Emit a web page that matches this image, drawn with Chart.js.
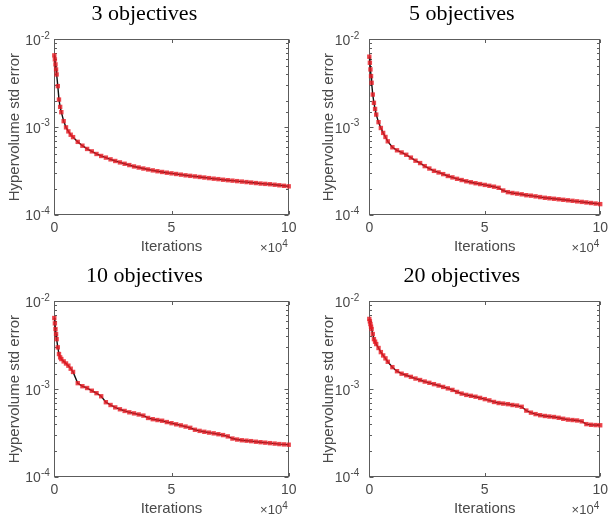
<!DOCTYPE html>
<html>
<head>
<meta charset="utf-8">
<script src="https://cdn.jsdelivr.net/npm/chart.js@4.4.1/dist/chart.umd.min.js"></script>
<style>
  html, body { margin: 0; padding: 0; background: #fff; overflow: hidden; }
  body { position: relative; width: 611px; height: 525px; }
  canvas { position: absolute; }
</style>
</head>
<body>
<canvas id="obj3" width="305" height="262" style="left:0px;top:0px"></canvas>
<canvas id="obj5" width="293" height="262" style="left:320px;top:0px"></canvas>
<canvas id="obj10" width="305" height="262" style="left:0px;top:262px"></canvas>
<canvas id="obj20" width="293" height="262" style="left:320px;top:262px"></canvas>
<script>
// iteration at which each std error sample was taken (denser during the first drop)
const iterations = [
  0, 250, 500, 750, 1000, 1500, 2000, 2500, 3000, 4000,
  5000, 6000, 7000, 8000, 10000, 12000, 14000, 16000, 18000,
  20000, 22000, 24000, 26000, 28000, 30000, 32000, 34000, 36000, 38000,
  40000, 42000, 44000, 46000, 48000, 50000, 52000, 54000, 56000, 58000,
  60000, 62000, 64000, 66000, 68000, 70000, 72000, 74000, 76000, 78000,
  80000, 82000, 84000, 86000, 88000, 90000, 92000, 94000, 96000, 98000,
  100000
];

const panelTitles = ['3 objectives', '5 objectives', '10 objectives', '20 objectives'];

const stdErr3 = [
  6.56e-3, 5.9e-3, 5.18e-3, 4.54e-3, 3.98e-3, 2.93e-3, 2.06e-3, 1.7e-3, 1.48e-3, 1.17e-3,
  9.95e-4, 8.95e-4, 8.2e-4, 7.7e-4, 6.8e-4, 6.15e-4, 5.65e-4, 5.3e-4, 4.95e-4,
  4.7e-4, 4.5e-4, 4.3e-4, 4.12e-4, 3.97e-4, 3.83e-4, 3.7e-4, 3.57e-4, 3.47e-4, 3.38e-4,
  3.3e-4, 3.22e-4, 3.15e-4, 3.09e-4, 3.03e-4, 2.98e-4, 2.93e-4, 2.88e-4, 2.83e-4, 2.79e-4,
  2.75e-4, 2.71e-4, 2.67e-4, 2.63e-4, 2.59e-4, 2.56e-4, 2.52e-4, 2.49e-4, 2.46e-4, 2.43e-4,
  2.4e-4, 2.37e-4, 2.34e-4, 2.31e-4, 2.28e-4, 2.26e-4, 2.24e-4, 2.21e-4, 2.18e-4, 2.15e-4,
  2.12e-4
];

const stdErr5 = [
  6.34e-3, 5.41e-3, 4.54e-3, 3.81e-3, 3.2e-3, 2.35e-3, 1.89e-3, 1.61e-3, 1.39e-3, 1.14e-3,
  9.78e-4, 8.6e-4, 7.73e-4, 6.9e-4, 5.9e-4, 5.45e-4, 5.15e-4, 4.85e-4, 4.5e-4,
  4.15e-4, 3.9e-4, 3.6e-4, 3.38e-4, 3.18e-4, 3.05e-4, 2.92e-4, 2.78e-4, 2.68e-4, 2.58e-4,
  2.5e-4, 2.42e-4, 2.36e-4, 2.3e-4, 2.25e-4, 2.2e-4, 2.15e-4, 2.1e-4, 2.04e-4, 1.9e-4,
  1.82e-4, 1.78e-4, 1.75e-4, 1.72e-4, 1.68e-4, 1.66e-4, 1.63e-4, 1.6e-4, 1.57e-4, 1.55e-4,
  1.53e-4, 1.51e-4, 1.49e-4, 1.47e-4, 1.45e-4, 1.43e-4, 1.41e-4, 1.39e-4, 1.37e-4, 1.35e-4,
  1.33e-4
];

const stdErr10 = [
  6.45e-3, 5.61e-3, 4.83e-3, 4.24e-3, 3.71e-3, 2.99e-3, 2.51e-3, 2.3e-3, 2.2e-3, 2.07e-3,
  1.96e-3, 1.85e-3, 1.71e-3, 1.57e-3, 1.17e-3, 1.08e-3, 1.03e-3, 9.6e-4, 9.0e-4,
  8.3e-4, 7.1e-4, 6.6e-4, 6.2e-4, 5.9e-4, 5.65e-4, 5.45e-4, 5.3e-4, 5.15e-4, 5.0e-4,
  4.7e-4, 4.55e-4, 4.45e-4, 4.37e-4, 4.22e-4, 4.1e-4, 3.98e-4, 3.87e-4, 3.75e-4, 3.63e-4,
  3.45e-4, 3.35e-4, 3.27e-4, 3.2e-4, 3.14e-4, 3.07e-4, 3.0e-4, 2.9e-4, 2.74e-4, 2.67e-4,
  2.62e-4, 2.59e-4, 2.56e-4, 2.52e-4, 2.49e-4, 2.46e-4, 2.43e-4, 2.4e-4, 2.37e-4, 2.35e-4,
  2.33e-4
];

const stdErr20 = [
  6.3e-3, 5.91e-3, 5.51e-3, 5.14e-3, 4.83e-3, 4.24e-3, 3.71e-3, 3.47e-3, 3.26e-3, 2.94e-3,
  2.64e-3, 2.42e-3, 2.24e-3, 2.05e-3, 1.78e-3, 1.6e-3, 1.5e-3, 1.44e-3, 1.38e-3,
  1.32e-3, 1.27e-3, 1.22e-3, 1.18e-3, 1.14e-3, 1.1e-3, 1.06e-3, 1.02e-3, 9.8e-4, 9.3e-4,
  8.9e-4, 8.6e-4, 8.4e-4, 8.2e-4, 7.95e-4, 7.7e-4, 7.45e-4, 7.15e-4, 6.95e-4, 6.85e-4,
  6.75e-4, 6.6e-4, 6.5e-4, 6.3e-4, 5.7e-4, 5.4e-4, 5.2e-4, 5.05e-4, 4.95e-4, 4.88e-4,
  4.82e-4, 4.72e-4, 4.6e-4, 4.5e-4, 4.45e-4, 4.4e-4, 4.3e-4, 4.0e-4, 3.93e-4, 3.9e-4,
  3.88e-4
];

const xTickValues = [0, 50000, 100000];
const xScaleLabel = '\u00d710';
const xScaleExp = '4';

const sansFont = "'Liberation Sans', Arial, Helvetica, sans-serif";
const axisColor = '#5c5c5c';
const labelColor = '#4a4a4a';

// MATLAB-like box: frame, inward ticks on all sides, 10^k labels, x multiplier
const boxAxes = {
  id: 'boxAxes',
  beforeDatasetsDraw(chart, args, opts) {
    const { ctx, chartArea: a, scales: { x, y } } = chart;
    const L = Math.round(a.left) + 0.5;
    const R = Math.round(a.right) - 0.5;
    const T = Math.round(a.top) + 0.5;
    const B = Math.round(a.bottom) - 0.5;
    ctx.save();
    ctx.strokeStyle = axisColor;
    ctx.lineWidth = 1;
    ctx.strokeRect(L, T, R - L, B - T);

    ctx.beginPath();
    y.ticks.forEach(t => {
      const py = Math.round(y.getPixelForValue(t.value)) + 0.5;
      const lg = Math.log10(t.value);
      const len = Math.abs(lg - Math.round(lg)) < 1e-6 ? 4 : 2.5;
      ctx.moveTo(L, py); ctx.lineTo(L + len, py);
      ctx.moveTo(R, py); ctx.lineTo(R - len, py);
    });
    x.ticks.forEach(t => {
      const px = Math.round(x.getPixelForValue(t.value)) + 0.5;
      ctx.moveTo(px, B); ctx.lineTo(px, B - 3.5);
      ctx.moveTo(px, T); ctx.lineTo(px, T + 3.5);
    });
    ctx.stroke();

    // decade labels 10^-2 .. 10^-4
    ctx.fillStyle = labelColor;
    ctx.textAlign = 'right';
    ctx.textBaseline = 'middle';
    y.ticks.forEach(t => {
      const lg = Math.log10(t.value);
      if (Math.abs(lg - Math.round(lg)) > 1e-6) return;
      const py = y.getPixelForValue(t.value);
      const exp = String(Math.round(lg));
      ctx.font = '10px ' + sansFont;
      const ew = ctx.measureText(exp).width;
      ctx.fillText(exp, a.left - opts.gap, py - 3.5);
      ctx.font = '14px ' + sansFont;
      ctx.fillText('10', a.left - opts.gap - ew, py + 1.5);
    });

    // x multiplier under the right end of the axis
    ctx.textBaseline = 'alphabetic';
    ctx.font = '10px ' + sansFont;
    const w4 = ctx.measureText(xScaleExp).width;
    ctx.fillText(xScaleExp, a.right - 1, a.bottom + 31.5);
    ctx.font = '13px ' + sansFont;
    ctx.fillText(xScaleLabel, a.right - 1 - w4, a.bottom + 37);
    ctx.restore();
  }
};

function makePanel(canvasId, title, values, box) {
  const ctx = document.getElementById(canvasId).getContext('2d');
  new Chart(ctx, {
    type: 'line',
    data: {
      datasets: [{
        data: iterations.map((it, i) => ({ x: it, y: values[i] })),
        borderColor: '#111111',
        borderWidth: 1.4,
        pointStyle: 'rect',
        pointRadius: 3.1,
        pointBackgroundColor: 'rgba(232, 28, 36, 0.82)',
        pointBorderWidth: 0,
        tension: 0,
        clip: false
      }]
    },
    options: {
      responsive: false,
      animation: false,
      events: [],
      layout: { padding: { left: 0, right: box.padRight, top: 0, bottom: 0 } },
      plugins: {
        legend: { display: false },
        tooltip: { enabled: false },
        title: {
          display: true,
          text: title,
          color: '#000',
          font: { family: "'Liberation Serif', 'Times New Roman', serif", size: 22, weight: 'normal', lineHeight: 1.2 },
          padding: { top: 0.9, bottom: 12 }
        },
        boxAxes: { gap: box.gap }
      },
      scales: {
        x: {
          type: 'linear',
          min: 0,
          max: 100000,
          afterBuildTicks: axis => { axis.ticks = xTickValues.map(v => ({ value: v })); },
          grid: { display: false, drawTicks: false },
          border: { display: false },
          ticks: {
            color: labelColor,
            font: { family: sansFont, size: 14 },
            padding: 5,
            maxRotation: 0,
            callback: v => String(v / 10000)
          },
          title: {
            display: true,
            text: 'Iterations',
            color: labelColor,
            font: { family: sansFont, size: 15, lineHeight: 1.2 },
            padding: { top: 0, bottom: 6 }
          },
          afterFit: axis => { axis.height = 47; }
        },
        y: {
          type: 'logarithmic',
          min: 1e-4,
          max: 1e-2,
          grid: { display: false, drawTicks: false },
          border: { display: false },
          ticks: { display: false, autoSkip: false },
          title: {
            display: true,
            text: 'Hypervolume std error',
            color: labelColor,
            font: { family: sansFont, size: 15, lineHeight: 1.2 },
            padding: { top: box.titlePad, bottom: 0 }
          },
          afterFit: axis => { axis.width = box.yWidth; }
        }
      }
    },
    plugins: [boxAxes]
  });
}

const leftBox = { padRight: 16.3, yWidth: 54.3, titlePad: 5.4, gap: 4.5 };
const rightBox = { padRight: 9.5, yWidth: 49.3, titlePad: 0, gap: 10 };

makePanel('obj3', panelTitles[0], stdErr3, leftBox);
makePanel('obj5', panelTitles[1], stdErr5, rightBox);
makePanel('obj10', panelTitles[2], stdErr10, leftBox);
makePanel('obj20', panelTitles[3], stdErr20, rightBox);
</script>
</body>
</html>
